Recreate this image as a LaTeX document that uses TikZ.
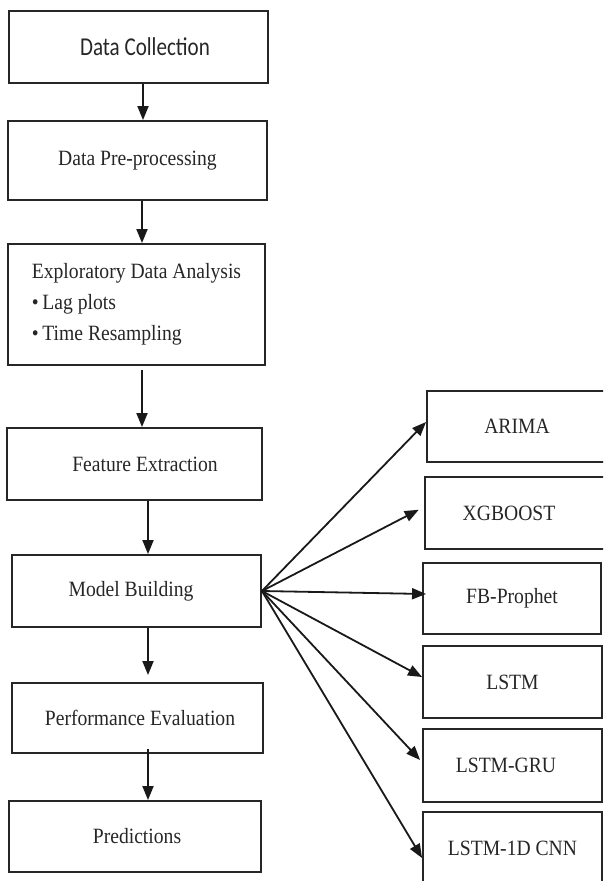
\documentclass[tikz,border=0pt]{standalone}
\usepackage{fontspec}
\setmainfont{Liberation Serif}[FakeStretch=0.9]
\newfontfamily\labelsans{Carlito}[FakeStretch=0.82]
\usetikzlibrary{arrows.meta,calc}

% shift a label sideways inside its box
\newcommand{\nudgeR}[2]{\hspace*{#1pt}#2}
\newcommand{\nudgeL}[2]{#2\hspace*{#1pt}}

\tikzset{
  box/.style={draw=black!85, line width=1.9pt, inner sep=0pt, text=black!85,
              font=\fontsize{21.8}{31}\selectfont, rectangle},
  arr/.style={draw=black!90, line width=1.8pt,
              -{Triangle[length=14pt,width=11pt]}},
}

\begin{document}
\begin{tikzpicture}[x=1pt,y=-1pt]
\useasboundingbox (0,0) rectangle (603,881);
\clip (0,0) rectangle (603,881);

% main pipeline
\node[box, minimum width=259, minimum height=72] (dc) at (138.5,47)
  {\labelsans\fontsize{25.7}{30}\selectfont\nudgeR{13}{Data Collection}};
\node[box, minimum width=259, minimum height=79] (dp) at (137.5,160.5)
  {Data Pre-processing};
\node[box, minimum width=257, minimum height=121, align=left] (eda) at (136.5,304.5)
  {Exploratory Data Analysis\\
   \textbullet\,Lag plots\\
   \textbullet\,Time Resampling};
\node[box, minimum width=255, minimum height=72] (fe) at (134.5,464)
  {\nudgeR{21}{Feature Extraction}};
\node[box, minimum width=249, minimum height=72] (mb) at (136.5,591)
  {\nudgeL{11}{Model Building}};
\node[box, minimum width=251, minimum height=70] (pe) at (137.5,718)
  {\nudgeR{5}{Performance Evaluation}};
\node[box, minimum width=252, minimum height=71] (pr) at (135,836.5)
  {\nudgeR{4}{Predictions}};

% candidate models
\node[box, minimum width=180, minimum height=71] (arima) at (517,426.5) {ARIMA};
\node[box, minimum width=180, minimum height=72] (xgb)   at (515,513)   {\nudgeL{12}{XGBOOST}};
\node[box, minimum width=178, minimum height=71] (fbp)   at (512,598.5) {FB-Prophet};
\node[box, minimum width=179, minimum height=72] (lstm)  at (512.5,682) {LSTM};
\node[box, minimum width=179, minimum height=73] (gru)   at (512.5,765.5) {\nudgeL{13}{LSTM-GRU}};
\node[box, minimum width=179, minimum height=72] (cnn)   at (512.5,848) {LSTM-1D CNN};

% vertical flow
\coordinate (a1) at ([xshift=4.5pt]dc.south);
\coordinate (a2) at ([xshift=4.5pt]dp.south);
\coordinate (a3) at ([xshift=5.5pt,yshift=-4pt]eda.south);
\coordinate (a4) at ([xshift=13.5pt]fe.south);
\coordinate (a5) at ([xshift=11.5pt]mb.south);
\coordinate (a6) at ([xshift=10.5pt,yshift=5pt]pe.south);
\draw[arr] (a1) -- (a1 |- dp.north);
\draw[arr] (a2) -- (a2 |- eda.north);
\draw[arr] (a3) -- (a3 |- fe.north);
\draw[arr] (a4) -- (a4 |- mb.north);
\draw[arr, shorten >=7pt] (a5) -- (a5 |- pe.north);
\draw[arr] (a6) -- (a6 |- pr.north);

% fan-out from model building
\draw[arr] (mb.east) -- ([yshift=4.5pt]arima.west);
\draw[arr, shorten >=6pt] (mb.east) -- ([yshift=6pt]xgb.west);
\draw[arr] (mb.east) -- ([yshift=4.5pt,xshift=4pt]fbp.west);
\draw[arr] (mb.east) -- ([yshift=5pt]lstm.west);
\draw[arr] (mb.east) -- ([yshift=5.5pt,xshift=-2pt]gru.west);
\draw[arr] (mb.east) -- ([yshift=-10pt]cnn.west);
\end{tikzpicture}
\end{document}
